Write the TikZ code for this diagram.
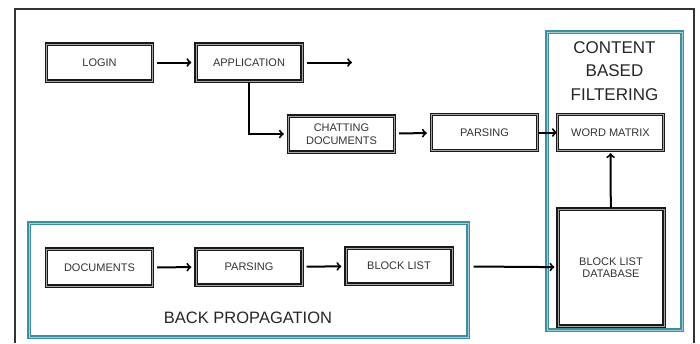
\documentclass[tikz,border=0pt]{standalone}
\usepackage{fontspec}
\setmainfont{Liberation Sans}
\definecolor{frameteal}{RGB}{62,142,160}

\begin{document}
\begin{tikzpicture}[x=1pt,y=-1pt,shorten >=4pt,shorten <=4pt,->,line width=2pt]
\useasboundingbox (0,0) rectangle (700,343);

\tikzstyle{box}=[draw=black!90,double=black!35,double distance=1pt,line width=1.3pt,fill=white,minimum width=106pt,minimum height=37pt,inner sep=0pt,align=center,text=black!80,font=\fontsize{11}{12.5}\selectfont]
\tikzstyle{frame}=[draw=frameteal,double=frameteal!45,double distance=0.9pt,line width=1.2pt,inner sep=0pt]
\tikzstyle{title}=[align=center,text=black!85,font=\fontsize{17}{23.5}\selectfont]

% outer border
\draw[-,shorten >=0pt,shorten <=0pt,black!80,line width=1.2pt] (15,343) -- (15,9) -- (694,9) -- (694,343);

% content based filtering
\node[frame,minimum width=135pt,minimum height=298pt] (cbf) at (614.5,181) {};
\node[title] (cbftitle) at (614.5,71) {CONTENT\\BASED\\FILTERING};

% back propagation
\node[frame,minimum width=439pt,minimum height=114pt] (bp) at (248.5,280) {};
\node[title,font=\fontsize{16.5}{20}\selectfont] (bptitle) at (248,318) {BACK PROPAGATION};

\node[box] (login) at (99.5,62.5) {LOGIN};
\node[box] (app) at (249,62.5) {APPLICATION};
\draw (login) -- (app);
\coordinate (appout) at (356,62.5);
\draw (app) -- (appout);
\node[box,minimum height=36pt] (chat) at (341.5,134) {CHATTING\\DOCUMENTS};
\draw[shorten <=0pt] (app.south) |- (chat.west);
\node[box,minimum height=36pt] (parse) at (484.5,132.5) {PARSING};
\draw (chat) -- (parse);
\node[box,minimum height=36pt] (wordmat) at (610.5,132.5) {WORD MATRIX};
\draw[shorten <=0pt,shorten >=0pt] (parse) -- (wordmat);
\node[box,minimum height=117pt] (blockdb) at (611,267.5) {BLOCK LIST\\DATABASE};
\draw[shorten <=0pt,shorten >=2pt] (blockdb) -- (wordmat);

\node[box] (docs) at (99.5,267.5) {DOCUMENTS};
\node[box,minimum height=36pt] (parse2) at (249,267) {PARSING};
\draw (docs) -- (parse2);
\node[box,minimum height=36pt] (blocklist) at (399,266) {BLOCK LIST};
\draw (parse2) -- (blocklist);
\draw[shorten <=21pt,shorten >=3pt] (blocklist) -- (blockdb);
\end{tikzpicture}
\end{document}
